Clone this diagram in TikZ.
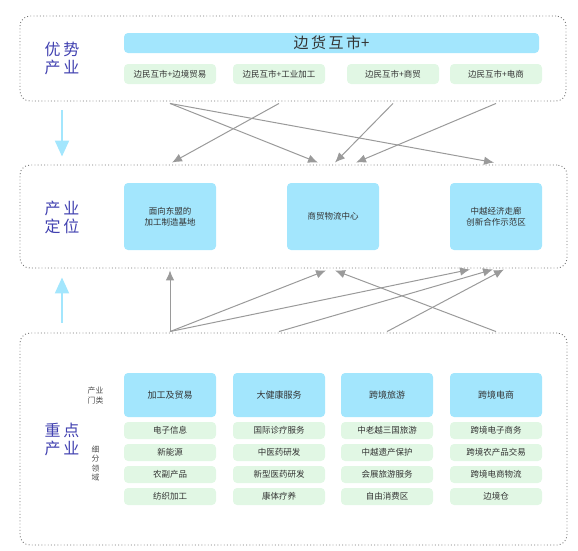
\documentclass[tikz,border=0pt]{standalone}
\usepackage{fontspec}
\setmainfont{Noto Sans CJK SC}
\usetikzlibrary{calc, positioning, arrows.meta}

\definecolor{boxblue}{HTML}{A3E6FD}
\definecolor{boxgreen}{HTML}{E1F7E4}
\definecolor{labelblue}{HTML}{4141B0}
\definecolor{arrowgray}{HTML}{9A9A9A}

\begin{document}
\begin{tikzpicture}[x=1pt, y=-1pt,
    panel/.style={draw=black!55, dash pattern=on 0.9pt off 2.3pt, line width=0.9pt, rounded corners=10pt},
    bluebox/.style={fill=boxblue, rounded corners=4pt, minimum width=92pt, inner sep=1pt, align=center, text=black!80, font=\fontsize{8.5}{10.5}\selectfont},
    greenbox/.style={fill=boxgreen, rounded corners=4pt, minimum width=92pt, minimum height=17pt, inner sep=1pt, text=black!80, font=\fontsize{8.5}{10}\selectfont},
    sidelabel/.style={text=labelblue, align=center, font=\fontsize{16}{17.5}\selectfont},
    smalllabel/.style={text=black!70, align=center, font=\fontsize{7.8}{9.3}\selectfont},
    flow/.style={draw=arrowgray, line width=1pt, -{Latex[length=10pt,width=8.5pt]}},
    bigflow/.style={draw=boxblue, line width=2pt, -{Triangle[length=16pt,width=14pt]}}]
    \useasboundingbox (0,0) rectangle (578,550);
    % three panels
    \node[panel, minimum width=546pt, minimum height=85pt] (toppanel) at (293,58.5) {};
    \node[panel, minimum width=547pt, minimum height=103pt] (midpanel) at (293.5,216.5) {};
    \node[panel, minimum width=547pt, minimum height=212pt] (botpanel) at (293.5,439) {};
    \node[sidelabel] (toplabel) at (62,58.5) {优\,势\\产\,业};
    \node[sidelabel] (midlabel) at (62,217.5) {产\,业\\定\,位};
    \node[sidelabel] (botlabel) at (62,439.5) {重\,点\\产\,业};
    % top panel
    \node[bluebox, minimum width=415pt, minimum height=20pt, font=\fontsize{15}{16}\selectfont] (bar) at (331.5,43) {边\,货\,互\,市+};
    \node[greenbox, minimum height=20pt] (t1) at (170,74) {边民互市+边境贸易};
    \node[greenbox, minimum height=20pt] (t2) at (279,74) {边民互市+工业加工};
    \node[greenbox, minimum height=20pt] (t3) at (393,74) {边民互市+商贸};
    \node[greenbox, minimum height=20pt] (t4) at (496,74) {边民互市+电商};
    % middle panel
    \node[bluebox, minimum height=67pt] (m1) at (170,216.5) {面向东盟的\\加工制造基地};
    \node[bluebox, minimum height=67pt] (m2) at (333,216.5) {商贸物流中心};
    \node[bluebox, minimum height=67pt] (m3) at (496,216.5) {中越经济走廊\\创新合作示范区};
    % bottom panel
    \node[smalllabel] (catlabel) at (95.5,395.5) {产业\\门类};
    \node[smalllabel] (sublabel) at (95.5,463.5) {细\\分\\领\\域};
    \foreach \x/\n/\cat/\a/\b/\c/\d in {170/1/加工及贸易/电子信息/新能源/农副产品/纺织加工,
        279/2/大健康服务/国际诊疗服务/中医药研发/新型医药研发/康体疗养,
        387/3/跨境旅游/中老越三国旅游/中越遗产保护/会展旅游服务/自由消费区,
        496/4/跨境电商/跨境电子商务/跨境农产品交易/跨境电商物流/边境仓} {
        \node[bluebox, minimum height=44pt, font=\fontsize{9}{10}\selectfont] (c\n) at (\x,395) {\cat};
        \node[greenbox] (g\n a) at (\x,430.5) {\a};
        \node[greenbox] (g\n b) at (\x,452.5) {\b};
        \node[greenbox] (g\n c) at (\x,474.5) {\c};
        \node[greenbox] (g\n d) at (\x,496.5) {\d};
    }
    % arrows between panels
    \coordinate (down1) at ($(toplabel |- toppanel.south)+(0,9)$);
    \coordinate (down2) at ($(toplabel |- midpanel.north)+(0,-8)$);
    \draw[bigflow] (down1) -- (down2);
    \coordinate (up1) at ($(botlabel |- botpanel.north)+(0,-10)$);
    \coordinate (up2) at ($(midlabel |- midpanel.south)+(0,9)$);
    \draw[bigflow] (up1) -- (up2);
    \foreach \n in {1,...,4} {
        \coordinate (ts\n) at ($(t\n |- toppanel.south)+(0,2)$);
        \coordinate (bs\n) at ($(c\n |- botpanel.north)+(0,-1)$);
    }
    \coordinate (te1) at ($(m1 |- midpanel.north)+(2,-2)$);
    \coordinate (te2) at ($(m2 |- midpanel.north)+(-15,-2)$);
    \coordinate (te3) at ($(m2 |- midpanel.north)+(2,-2)$);
    \coordinate (te4) at ($(m2 |- midpanel.north)+(23,-2)$);
    \coordinate (te5) at ($(m3 |- midpanel.north)+(-2,-2)$);
    \draw[flow] (ts1) -- (te2);
    \draw[flow] (ts1) -- (te5);
    \draw[flow] (ts2) -- (te1);
    \draw[flow] (ts3) -- (te3);
    \draw[flow] (ts4) -- (te4);
    \coordinate (be1) at ($(m1 |- midpanel.south)+(0,2)$);
    \coordinate (be2) at ($(m2 |- midpanel.south)+(-7,2)$);
    \coordinate (be3) at ($(m2 |- midpanel.south)+(2,2)$);
    \coordinate (be4) at ($(m3 |- midpanel.south)+(-26,1)$);
    \coordinate (be5) at ($(m3 |- midpanel.south)+(-3,1)$);
    \coordinate (be6) at ($(m3 |- midpanel.south)+(8,1)$);
    \draw[flow] (bs1) -- (be1);
    \draw[flow] (bs1) -- (be2);
    \draw[flow] (bs1) -- (be4);
    \draw[flow] (bs2) -- (be5);
    \draw[flow] (bs3) -- (be6);
    \draw[flow] (bs4) -- (be3);
\end{tikzpicture}
\end{document}
